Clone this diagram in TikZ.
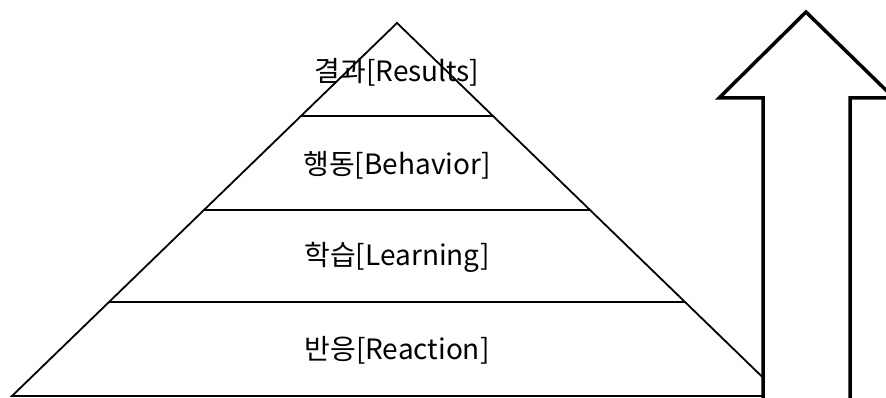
\documentclass[tikz,border=0pt]{standalone}
\usepackage{fontspec}
\setmainfont{Noto Sans CJK KR}
\usetikzlibrary{calc}
\tikzstyle{level} = [
    font=\fontsize{28}{32}\selectfont,
    text=black,
    inner sep=0pt
]
\tikzstyle{edge} = [line width=1.8pt, draw=black]
\tikzstyle{bigarrow} = [
    line width=3.5pt,
    draw=black,
    fill=white,
    line join=miter
]
\begin{document}
\begin{tikzpicture}[x=1pt, y=-1pt]
\useasboundingbox (0,0) rectangle (886,398);
\clip (0,0) rectangle (886,398);

\coordinate (apex) at (397,23);
\coordinate (baseL) at (12,396);
\coordinate (baseR) at (782,396);

\draw [edge] (apex) -- (baseL) -- (baseR) -- cycle;

% level borders
\foreach \t in {0.249, 0.501, 0.748} {
    \draw [edge] ($(apex)!\t!(baseL)$) -- ($(apex)!\t!(baseR)$);
}

\node (results) [level] at (397,72) {결과[Results]};
\node (behavior) [level] at (397,165) {행동[Behavior]};
\node (learning) [level] at (397,257) {학습[Learning]};
\node (reaction) [level] at (397,350) {반응[Reaction]};

% upward arrow
\draw [bigarrow] (806,12) -- (719,98) -- (763,98) -- (763,420)
    -- (850,420) -- (850,98) -- (894,98) -- cycle;

\end{tikzpicture}
\end{document}
